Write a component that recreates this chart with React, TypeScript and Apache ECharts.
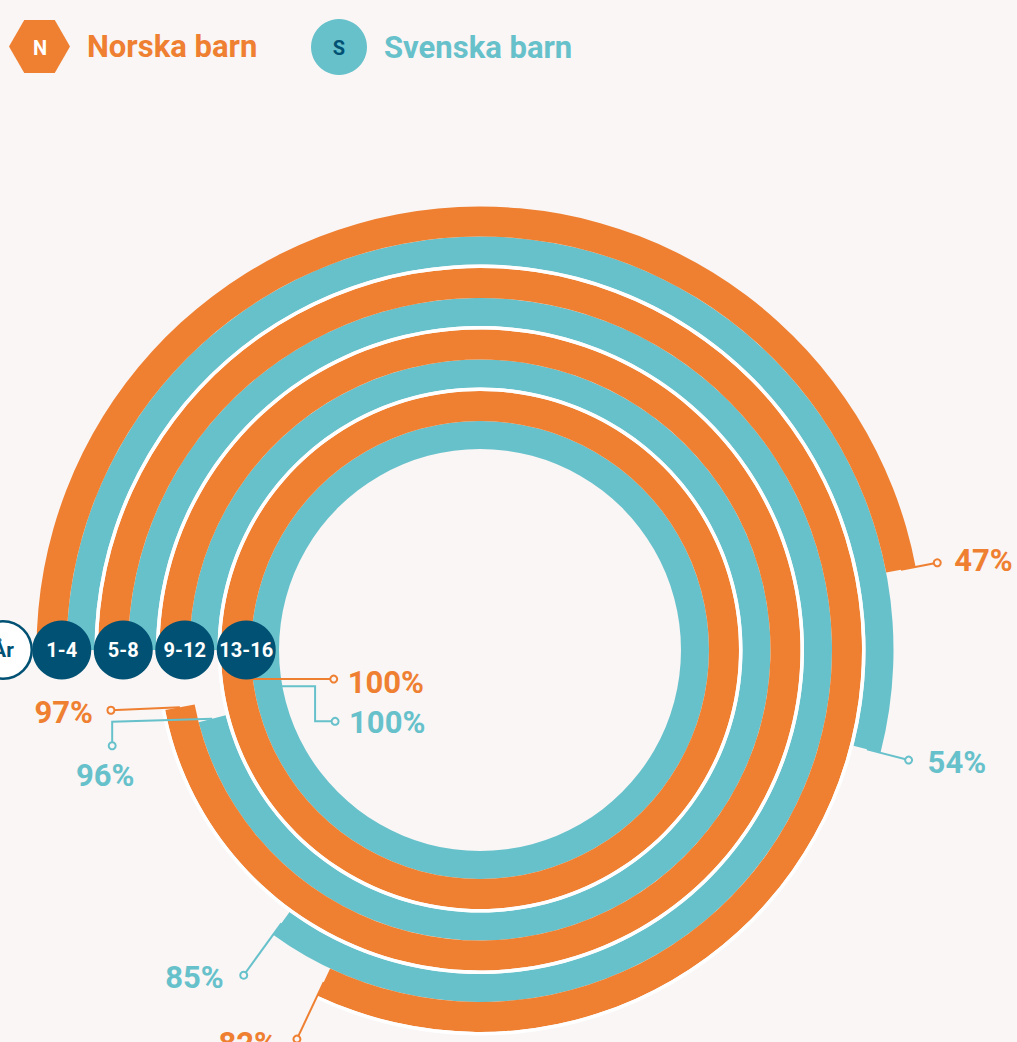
import React, { useEffect, useRef } from "react";
import * as echarts from "echarts";

// ---- data ----
const ageGroups = ["13-16", "9-12", "5-8", "1-4"]; // inner -> outer rings
const norskaBarn = [100, 97, 82, 47];
const svenskaBarn = [100, 96, 85, 54];
const seriesNames = ["Norska barn", "Svenska barn"];
const axisName = "År";

// ---- style ----
const BG = "#f9f6f5";
const ORANGE = "#ef7f31";
const TEAL = "#67c1cb";
const NAVY = "#005173";
const FONT = "Roboto, 'Noto Sans', sans-serif";
const TEAL_W = 28;
const ORANGE_W = 30;
const WHITE_W = 3.5;

// label leader layouts (styling only), indexed like ageGroups
type Spec = {
  anchor?: number;
  radial?: number;
  legs?: number[][];
  text: number[];
  align: string;
};
const norskaLabelLayout: Spec[] = [
  { anchor: 98.1, legs: [[96, 0]], text: [14, 3], align: "left" },
  { legs: [[-69, 3]], text: [-18, 2], align: "right" },
  { radial: 63, text: [-20, 4], align: "right" },
  { radial: 37, text: [17, -2], align: "left" },
];
const svenskaLabelLayout: Spec[] = [
  { anchor: 97.3, legs: [[47, 0], [0, 35], [20, 0]], text: [14, 1], align: "left" },
  { legs: [[-100, 3], [0, 24]], text: [-7, 30], align: "center" },
  { radial: 64, text: [-20, 2], align: "right" },
  { radial: 43, text: [19, 2], align: "left" },
];

function makeLabelRenderer(layout: Spec[], color: string, outer: boolean) {
  return (params: any, api: any) => {
    const cat = api.value(0);
    const v = api.value(1);
    const spec = layout[params.dataIndex];
    const cs = params.coordSys;
    const used = TEAL_W + ORANGE_W + WHITE_W;
    const pc = api.coord([cat, spec.anchor != null ? spec.anchor : v]);
    const dx = pc[0] - cs.cx;
    const dy = pc[1] - cs.cy;
    const rc = Math.sqrt(dx * dx + dy * dy);
    const ux = dx / rc;
    const uy = dy / rc;
    const start = rc - used / 2;
    const rm = outer ? start + TEAL_W + ORANGE_W / 2 : start + TEAL_W / 2;
    const p0 = [cs.cx + ux * rm, cs.cy + uy * rm];
    const pts = [p0];
    if (spec.radial) {
      pts.push([cs.cx + ux * (rm + spec.radial), cs.cy + uy * (rm + spec.radial)]);
    } else if (spec.legs) {
      let cur = p0;
      spec.legs.forEach((l) => {
        cur = [cur[0] + l[0], cur[1] + l[1]];
        pts.push(cur);
      });
    }
    const end = pts[pts.length - 1];
    return {
      type: "group",
      children: [
        {
          type: "polyline",
          shape: { points: pts },
          style: { stroke: color, lineWidth: 2, fill: null },
        },
        {
          type: "circle",
          shape: { cx: end[0], cy: end[1], r: 3.5 },
          style: { fill: BG, stroke: color, lineWidth: 2 },
        },
        {
          type: "text",
          x: end[0] + spec.text[0],
          y: end[1] + spec.text[1],
          style: {
            text: v + "%",
            fill: color,
            fontSize: 31,
            fontWeight: "bold",
            fontFamily: FONT,
            align: spec.align,
            verticalAlign: "middle",
          },
        },
      ],
    };
  };
}

export default function App() {
  const ref = useRef<HTMLDivElement>(null);
  useEffect(() => {
    document.body.style.margin = "0";
    const chart = echarts.init(ref.current as HTMLDivElement, null, { renderer: "svg" });
    const legendText = (color: string) => ({
      color,
      fontSize: 31,
      fontWeight: "bold",
      fontFamily: FONT,
      rich: {
        a: { color, fontSize: 31, fontWeight: "bold", fontFamily: FONT, padding: [0, 0, 0, 12] },
      },
    });
    const option: any = {
      animation: false,
      backgroundColor: BG,
      legend: [
        {
          data: [
            {
              name: seriesNames[0],
              icon: "path://M0,26.5 L15.25,0 L45.75,0 L61,26.5 L45.75,53 L15.25,53 Z",
            },
          ],
          left: 9,
          top: 20,
          padding: 0,
          itemWidth: 61,
          itemHeight: 56,
          selectedMode: false,
          formatter: "{a|{name}}",
          textStyle: legendText(ORANGE),
        },
        {
          data: [{ name: seriesNames[1], icon: "circle" }],
          left: 311,
          top: 19,
          padding: 0,
          itemWidth: 56,
          itemHeight: 56,
          selectedMode: false,
          formatter: "{a|{name}}",
          textStyle: legendText(TEAL),
        },
      ],
      graphic: [
        {
          type: "text",
          x: 40,
          y: 48,
          z: 100,
          style: {
            text: "N",
            fill: "#fff",
            fontSize: 20,
            fontWeight: "bold",
            fontFamily: FONT,
            align: "center",
            verticalAlign: "middle",
          },
        },
        {
          type: "text",
          x: 339,
          y: 48,
          z: 100,
          style: {
            text: "S",
            fill: NAVY,
            fontSize: 20,
            fontWeight: "bold",
            fontFamily: FONT,
            align: "center",
            verticalAlign: "middle",
          },
        },
      ],
      polar: { center: [480, 650], radius: [201, 447] },
      angleAxis: {
        type: "value",
        min: 0,
        max: 100,
        startAngle: 180,
        clockwise: true,
        show: false,
      },
      radiusAxis: {
        type: "category",
        data: ageGroups,
        axisLine: { show: false },
        axisTick: { show: false },
        axisLabel: { show: false },
        splitLine: { show: false },
        name: "{c|" + axisName + "}",
        nameLocation: "end",
        nameGap: 30,
        nameTextStyle: {
          align: "center",
          verticalAlign: "middle",
          rich: {
            c: {
              color: NAVY,
              fontSize: 21,
              fontWeight: "bold",
              fontFamily: FONT,
              backgroundColor: "#ffffff",
              borderColor: NAVY,
              borderWidth: 2.5,
              borderRadius: 30,
              width: 55,
              height: 55,
              lineHeight: 55,
              align: "center",
              verticalAlign: "middle",
            },
          },
        },
        z: 10,
      },
      series: [
        {
          name: seriesNames[1],
          type: "bar",
          coordinateSystem: "polar",
          data: svenskaBarn,
          barWidth: TEAL_W,
          barGap: "0%",
          itemStyle: { color: TEAL },
          silent: true,
        },
        {
          name: seriesNames[0],
          type: "bar",
          coordinateSystem: "polar",
          data: norskaBarn,
          barWidth: ORANGE_W,
          barGap: "0%",
          itemStyle: { color: ORANGE },
          silent: true,
        },
        {
          // thin white rim along the outer side of each inner orange ring
          name: "Kant",
          type: "bar",
          coordinateSystem: "polar",
          data: norskaBarn.map((v, i) => (i < ageGroups.length - 1 ? v : null)),
          barWidth: WHITE_W,
          barGap: "0%",
          itemStyle: { color: "#ffffff" },
          silent: true,
        },
        {
          name: "Åldersgrupp",
          type: "scatter",
          coordinateSystem: "polar",
          data: ageGroups.map((g, i) => ({ name: g, value: [i, 0] })),
          symbolSize: 59,
          symbolOffset: [-2, 0],
          itemStyle: { color: NAVY, opacity: 1 },
          label: {
            show: true,
            position: "inside",
            formatter: "{b}",
            color: "#fff",
            fontSize: 20,
            fontWeight: "bold",
            fontFamily: FONT,
          },
          silent: true,
          z: 5,
        },
        {
          name: "Norska etiketter",
          type: "custom",
          coordinateSystem: "polar",
          data: norskaBarn.map((v, i) => [i, v]),
          renderItem: makeLabelRenderer(norskaLabelLayout, ORANGE, true),
          silent: true,
          z: 4,
        },
        {
          name: "Svenska etiketter",
          type: "custom",
          coordinateSystem: "polar",
          data: svenskaBarn.map((v, i) => [i, v]),
          renderItem: makeLabelRenderer(svenskaLabelLayout, TEAL, false),
          silent: true,
          z: 4,
        },
      ],
    };
    chart.setOption(option);
    return () => chart.dispose();
  }, []);
  return <div ref={ref} style={{ width: 1017, height: 1042, background: BG }} />;
}
